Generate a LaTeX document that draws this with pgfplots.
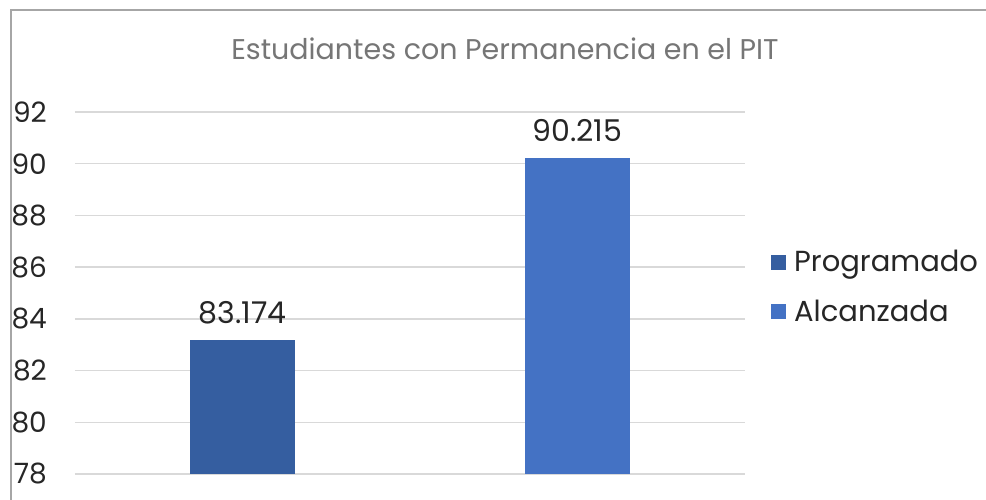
\documentclass[border=0pt]{standalone}
\usepackage{fontspec}
\setmainfont{Poppins}
\usepackage{pgfplots}
\pgfplotsset{compat=1.18}
\definecolor{progc}{HTML}{355EA0}
\definecolor{alcc}{HTML}{4472C4}
\definecolor{gridc}{HTML}{D9D9D9}
\definecolor{txt}{HTML}{262626}
\definecolor{ttl}{HTML}{767676}
\definecolor{brd}{HTML}{A6A6A6}
\begin{document}
\begin{tikzpicture}[x=1pt,y=1pt]
\path[use as bounding box] (0,0) rectangle (986,499);
\fill[white] (0,0) rectangle (986,499);
\draw[brd, line width=1.2pt] (11,-5) -- (11,489) -- (995,489);
\node[anchor=base, text=ttl, font=\fontsize{28.5}{28.5}\selectfont] at (505,439) {Estudiantes con Permanencia en el PIT};
\begin{axis}[at={(75pt,25pt)}, anchor=south west, scale only axis,
  width=670pt, height=362pt,
  xmin=-0.5, xmax=1.5, ymin=78, ymax=92, ytick={78,80,...,92}, xtick=\empty,
  axis line style={draw=none}, major tick length=0pt,
  ymajorgrids, grid style={gridc, line width=1.5pt},
  ybar, bar width=105pt, bar shift=0pt,
  /pgf/number format/assume math mode=true,
  yticklabel style={font=\fontsize{28}{28}\selectfont, text=txt, anchor=east, inner sep=0pt, xshift=-28pt},
  clip=false,
  nodes near coords, point meta=explicit symbolic,
  nodes near coords style={font=\fontsize{30}{30}\selectfont, text=txt, anchor=base, inner sep=0pt, yshift=17pt},
  legend style={draw=none, fill=none, at={(1.0388,0.5166)}, anchor=west, inner sep=0pt,
    font=\fontsize{29}{29}\selectfont, text=txt, row sep=23pt, column sep=6pt},
  legend cell align=left,
  legend image code/.code={\fill[#1] (0pt,-7.5pt) rectangle (15pt,7.5pt);},
]
\addplot[fill=progc, draw=none] coordinates {(0,83.174) [83.174]};
\addlegendentry{Programado}
\addplot[fill=alcc, draw=none] coordinates {(1,90.215) [90.215]};
\addlegendentry{Alcanzada}
\end{axis}
\end{tikzpicture}
\end{document}
